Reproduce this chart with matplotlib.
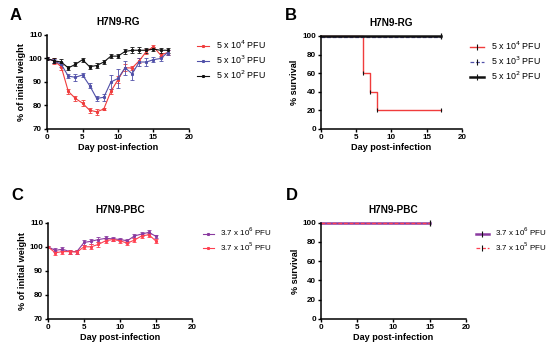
import matplotlib
matplotlib.use("Agg")
import matplotlib.pyplot as plt
from matplotlib.lines import Line2D
import numpy as np

plt.rcParams['font.family'] = ['Liberation Sans', 'DejaVu Sans']

# ---- Data ----
days_a = list(range(0, 18))
rg_w_hi = [100, 99, 96.5, 86, 83, 81, 78, 77.3, 78.5, 86, 91, 96, 96, 99, 103, 105, 101.5, 102.5]
rg_w_hi_err = [0.5, 1.2, 1.2, 1.0, 1.0, 1.2, 1.0, 1.2, 0.5, 1.0, 1.5, 1.5, 1.0, 1.0, 1.0, 0.8, 1.0, 1.0]
rg_w_mid = [100, 99, 97.5, 92.5, 92, 93, 88.5, 83, 83.5, 90, 91.5, 96, 93.5, 98.5, 98.5, 99.5, 100, 102.5]
rg_w_mid_err = [0.5, 0.8, 1.0, 1.0, 1.5, 0.8, 1.0, 1.0, 1.5, 3.0, 4.0, 3.0, 2.5, 1.5, 1.5, 1.0, 1.0, 1.2]
rg_w_lo = [100, 99, 98.5, 96, 97.5, 99.5, 96.5, 97, 98.5, 101, 101, 103, 103.5, 103.5, 103.5, 104, 103.5, 103.5]
rg_w_lo_err = [0.5, 1.0, 1.2, 1.0, 0.8, 0.8, 0.8, 1.0, 1.0, 0.8, 0.8, 1.0, 1.2, 1.2, 1.0, 1.0, 1.0, 1.0]

surv_hi_t = [0, 6, 6, 7, 7, 8, 8, 17]
surv_hi_s = [100, 100, 60, 60, 40, 40, 20, 20]
surv_mid_t = [0, 17]
surv_mid_s = [99, 99]
surv_lo_t = [0, 17]
surv_lo_s = [100, 100]

days_c = list(range(0, 16))
pbc_w_hi = [100, 98.5, 99, 98, 98, 101.8, 102.3, 103, 103.5, 103.3, 103, 102.5, 104.5, 105.3, 106, 104.3]
pbc_w_hi_err = [0.3, 0.8, 0.8, 0.8, 0.8, 1.0, 1.0, 1.0, 1.0, 0.8, 0.8, 0.8, 0.8, 0.8, 0.8, 0.8]
pbc_w_lo = [100, 97.5, 98, 98, 97.8, 100, 100, 101, 102.5, 103, 102.5, 101.5, 102.8, 104.5, 105, 102.3]
pbc_w_lo_err = [0.3, 0.8, 0.8, 0.8, 0.8, 0.8, 1.0, 1.0, 0.8, 0.8, 0.8, 0.8, 0.8, 0.8, 0.8, 0.8]

surv_pbc_t = [0, 15]
surv_pbc_hi = [99.5, 99.5]
surv_pbc_lo = [99.5, 99.5]

lab_rg = ['5 x 10$^4$ PFU', '5 x 10$^3$ PFU', '5 x 10$^2$ PFU']
lab_pbc = ['3.7 x 10$^6$ PFU', '3.7 x 10$^5$ PFU']

RED = '#f03c3c'
BLUE = '#5050a8'
BLACK = '#111111'
PURPLE = '#8a3aa0'
PINK = '#ff4050'

fig = plt.figure(figsize=(5.5, 3.51), dpi=100)
fig.patch.set_facecolor('white')

TICK_FS = 5.8
LAB_FS = 6.6
TITLE_FS = 7.2

def style(ax, ylim, yticks):
    ax.spines['top'].set_visible(False)
    ax.spines['right'].set_visible(False)
    for s in ('left', 'bottom'):
        ax.spines[s].set_linewidth(1.1)
    ax.set_xlim(0, 20)
    ax.set_xticks([0, 5, 10, 15, 20])
    ax.set_ylim(*ylim)
    ax.set_yticks(yticks)
    ax.tick_params(labelsize=TICK_FS, width=1.0, length=2.5, pad=1)
    for t in ax.get_xticklabels() + ax.get_yticklabels():
        t.set_fontweight('bold')
    ax.set_xlabel('Day post-infection', fontsize=LAB_FS, fontweight='bold', labelpad=1.5)

def legend(ax, handles, labels, fs=6.4, hl=1.4, x=1.03):
    ax.legend(handles, labels, loc='upper left', bbox_to_anchor=(x, 1.0), frameon=False,
              fontsize=fs, handlelength=hl, handletextpad=0.8, labelspacing=0.3,
              borderaxespad=0)

axA = fig.add_axes([0.0855, 0.6325, 0.258, 0.2678])
axB = fig.add_axes([0.583, 0.6325, 0.257, 0.2650])
axC = fig.add_axes([0.0873, 0.0912, 0.262, 0.2743])
axD = fig.add_axes([0.5836, 0.0912, 0.2636, 0.2743])

# A
for y, e, c, l in [(rg_w_hi, rg_w_hi_err, RED, lab_rg[0]),
                   (rg_w_mid, rg_w_mid_err, BLUE, lab_rg[1]),
                   (rg_w_lo, rg_w_lo_err, BLACK, lab_rg[2])]:
    axA.errorbar(days_a, y, yerr=e, color=c, lw=0.8, marker='s', ms=1.2,
                 elinewidth=0.6, capsize=1.2, capthick=0.6, label=l)
style(axA, (70, 110), [70, 80, 90, 100, 110])
axA.set_ylabel('% of initial weight', fontsize=LAB_FS, fontweight='bold', labelpad=2)
axA.set_title('H7N9-RG', fontsize=TITLE_FS, fontweight='bold', pad=7)
hA = [Line2D([], [], color=c, lw=0.8, marker='s', ms=1.2) for c in (RED, BLUE, BLACK)]
legend(axA, hA, lab_rg)

# B
axB.plot(surv_hi_t, surv_hi_s, color=RED, lw=1.0, clip_on=False)
axB.plot(surv_mid_t, surv_mid_s, color=BLUE, lw=0.9, ls=(0, (3, 1.5)), clip_on=False)
axB.plot(surv_lo_t, surv_lo_s, color=BLACK, lw=1.8, clip_on=False)
axB.plot([6, 7, 8, 17], [60, 40, 20, 20], ls='none', marker='|', ms=3, mew=0.8, color=BLACK)
axB.plot([17], [100], ls='none', marker='|', ms=4, mew=0.9, color=BLACK, clip_on=False)
style(axB, (0, 100), [0, 20, 40, 60, 80, 100])
axB.set_ylabel('% survival', fontsize=LAB_FS, fontweight='bold', labelpad=2)
axB.set_title('H7N9-RG', fontsize=TITLE_FS, fontweight='bold', pad=7)
hB = [Line2D([], [], color=RED, lw=1.0, marker='|', ms=4, mec=BLACK, mew=0.8),
      Line2D([], [], color=BLUE, lw=0.9, ls=(0, (3, 1.5)), marker='|', ms=4, mec=BLACK, mew=0.8),
      Line2D([], [], color=BLACK, lw=1.8, marker='|', ms=4, mec=BLACK, mew=0.8)]
legend(axB, hB, lab_rg, hl=1.6)

# C
for y, e, c, l in [(pbc_w_hi, pbc_w_hi_err, PURPLE, lab_pbc[0]),
                   (pbc_w_lo, pbc_w_lo_err, PINK, lab_pbc[1])]:
    axC.errorbar(days_c, y, yerr=e, color=c, lw=0.8, marker='s', ms=1.2,
                 elinewidth=0.6, capsize=1.2, capthick=0.6, label=l)
style(axC, (70, 110), [70, 80, 90, 100, 110])
axC.set_ylabel('% of initial weight', fontsize=LAB_FS, fontweight='bold', labelpad=2)
axC.set_title('H7N9-PBC', fontsize=TITLE_FS, fontweight='bold', pad=7)
hC = [Line2D([], [], color=c, lw=0.8, marker='s', ms=1.2) for c in (PURPLE, PINK)]
legend(axC, hC, lab_pbc, fs=5.8, x=1.05)

# D
axD.plot(surv_pbc_t, surv_pbc_hi, color=PURPLE, lw=1.8, clip_on=False)
axD.plot(surv_pbc_t, surv_pbc_lo, color=PINK, lw=0.9, ls=(0, (3, 1.5)), clip_on=False)
axD.plot([15], [99.5], ls='none', marker='|', ms=4, mew=0.9, color=BLACK, clip_on=False)
style(axD, (0, 100), [0, 20, 40, 60, 80, 100])
axD.set_ylabel('% survival', fontsize=LAB_FS, fontweight='bold', labelpad=2)
axD.set_title('H7N9-PBC', fontsize=TITLE_FS, fontweight='bold', pad=7)
hD = [Line2D([], [], color=PURPLE, lw=1.8, marker='|', ms=4, mec=BLACK, mew=0.8),
      Line2D([], [], color=PINK, lw=0.9, ls=(0, (3, 1.5)), marker='|', ms=4, mec=BLACK, mew=0.8)]
legend(axD, hD, lab_pbc, fs=5.8, hl=1.5, x=1.05)

for txt, x, y in [('A', 10, 16), ('B', 285, 16), ('C', 11, 195), ('D', 286, 195)]:
    fig.text(x / 550, 1 - y / 351, txt, fontsize=12, fontweight='bold', ha='left', va='center')

fig.savefig('out.png', dpi=100, facecolor='white')
